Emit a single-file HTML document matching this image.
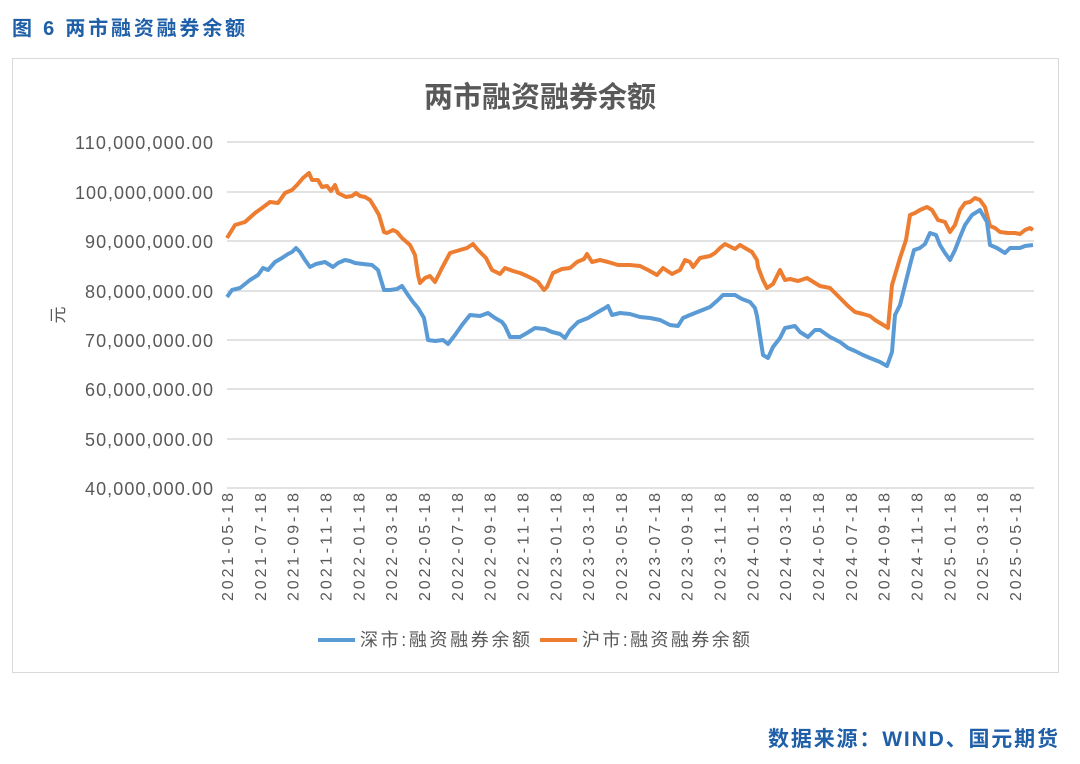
<!DOCTYPE html>
<html><head><meta charset="utf-8"><style>
body{margin:0;background:#fff;width:1080px;height:764px;overflow:hidden;font-family:"Liberation Sans","Noto Sans CJK SC",sans-serif}
</style></head><body>
<svg width="1080" height="764" xmlns="http://www.w3.org/2000/svg" style="position:absolute;left:0;top:0">
<text x="12" y="35" font-size="20" font-weight="bold" fill="#1f5fa8" textLength="233" font-family="Liberation Sans,Noto Sans CJK SC,sans-serif">图 6  两市融资融券余额</text>
<rect x="12.5" y="58.5" width="1046" height="614" fill="none" stroke="#d9d9d9"/>
<text x="540" y="107" font-size="29" font-weight="bold" fill="#595959" text-anchor="middle" font-family="Liberation Sans,Noto Sans CJK SC,sans-serif">两市融资融券余额</text>
<g stroke="#d9d9d9" stroke-width="1.5">
<line x1="227" y1="142" x2="1034" y2="142"/><line x1="227" y1="192" x2="1034" y2="192"/><line x1="227" y1="241" x2="1034" y2="241"/><line x1="227" y1="291" x2="1034" y2="291"/><line x1="227" y1="340" x2="1034" y2="340"/><line x1="227" y1="389" x2="1034" y2="389"/><line x1="227" y1="439" x2="1034" y2="439"/><line x1="227" y1="488" x2="1034" y2="488"/>
</g>
<g font-size="18" fill="#595959" text-anchor="end" font-family="Liberation Sans,sans-serif">
<text x="213" y="149" textLength="138">110,000,000.00</text><text x="213" y="199" textLength="138">100,000,000.00</text><text x="213" y="248" textLength="128">90,000,000.00</text><text x="213" y="298" textLength="128">80,000,000.00</text><text x="213" y="347" textLength="128">70,000,000.00</text><text x="213" y="396" textLength="128">60,000,000.00</text><text x="213" y="446" textLength="128">50,000,000.00</text><text x="213" y="495" textLength="128">40,000,000.00</text>
</g>
<text transform="translate(64,315) rotate(-90)" font-size="17" fill="#595959" text-anchor="middle">元</text>
<g font-size="16" fill="#595959" text-anchor="end" font-family="Liberation Sans,sans-serif" id="xl"></g>
<polyline fill="none" stroke="#ed7d31" stroke-width="4" stroke-linejoin="round" points="227,238 235,225 245,222 255,213 262,208 270,202 278,203 285,193 292,190 297,185 303,178 309,173 312,180 318,180 322,187 327,186 331,191 335,185 338,193 346,197 352,196 356,193 360,196 365,197 370,200 375,208 379,215 384,232 387,233 393,230 397,232 402,238 410,245 415,255 418,275 420,283 425,278 430,276 435,282 442,268 450,253 460,250 467,248 473,244 478,250 486,258 492,270 500,274 505,268 513,271 520,273 527,276 533,279 538,282 544,290 547,287 553,273 562,269 570,268 577,262 584,259 587,254 592,262 600,260 608,262 618,265 630,265 640,266 648,270 657,275 663,268 672,274 680,270 685,260 690,262 693,267 700,258 710,256 715,253 720,248 725,244 735,249 740,245 745,248 752,252 757,260 758,267 763,280 767,288 773,284 780,270 785,280 790,279 798,281 807,278 815,283 820,286 830,288 840,298 848,306 855,312 863,314 870,316 875,320 880,323 885,326 888,328 892,285 895,275 900,258 906,240 910,215 915,213 920,210 927,207 932,210 938,220 945,222 950,232 955,225 960,210 965,203 970,202 975,198 980,200 985,207 990,226 995,228 1000,232 1008,233 1015,233 1020,234 1025,230 1030,228 1033,230"/>
<polyline fill="none" stroke="#5b9bd5" stroke-width="4" stroke-linejoin="round" points="227,297 232,290 240,288 250,280 258,275 263,268 268,270 275,262 282,258 288,254 292,252 296,248 300,252 305,260 310,267 316,264 325,262 333,267 338,263 345,260 350,261 355,263 363,264 372,265 378,270 384,290 390,290 397,289 402,286 408,295 413,302 418,308 424,318 428,340 435,341 443,340 448,344 455,335 462,325 470,315 480,316 488,313 495,318 502,322 505,326 510,337 520,337 527,333 535,328 545,329 552,332 560,334 565,338 570,330 578,322 588,318 598,312 605,308 608,306 612,315 620,313 630,314 640,317 650,318 660,320 670,325 678,326 683,318 690,315 700,311 710,307 718,300 723,295 730,295 735,295 742,299 750,302 755,308 757,316 763,355 768,358 773,347 780,338 785,328 795,326 800,332 808,337 815,330 820,330 830,337 840,342 848,348 855,351 863,355 870,358 880,362 887,366 892,352 895,315 900,305 905,285 910,265 914,250 920,248 925,244 930,233 936,235 940,245 945,253 950,260 955,250 960,237 965,225 972,215 980,210 987,222 990,245 997,248 1005,253 1010,248 1020,248 1025,246 1033,245"/>
<line x1="318" y1="640" x2="355" y2="640" stroke="#5b9bd5" stroke-width="4"/>
<text x="360" y="646" font-size="18" fill="#595959" textLength="170">深市:融资融券余额</text>
<line x1="540" y1="640" x2="577" y2="640" stroke="#ed7d31" stroke-width="4"/>
<text x="582" y="646" font-size="18" fill="#595959" textLength="168">沪市:融资融券余额</text>
<text x="1058" y="746" font-size="21" font-weight="bold" fill="#1f5fa8" text-anchor="end" textLength="290">数据来源：WIND、国元期货</text>
</svg>
<script>
var g=document.getElementById('xl');var s='';
var d=['2021-05-18','2021-07-18','2021-09-18','2021-11-18','2022-01-18','2022-03-18','2022-05-18','2022-07-18','2022-09-18','2022-11-18','2023-01-18','2023-03-18','2023-05-18','2023-07-18','2023-09-18','2023-11-18','2024-01-18','2024-03-18','2024-05-18','2024-07-18','2024-09-18','2024-11-18','2025-01-18','2025-03-18','2025-05-18'];
for(var i=0;i<d.length;i++){var x=227+i*32.83+6;s+='<text transform="translate('+x.toFixed(1)+',493) rotate(-90)" textLength="108">'+d[i]+'</text>';}
g.innerHTML=s;
</script>
</body></html>
